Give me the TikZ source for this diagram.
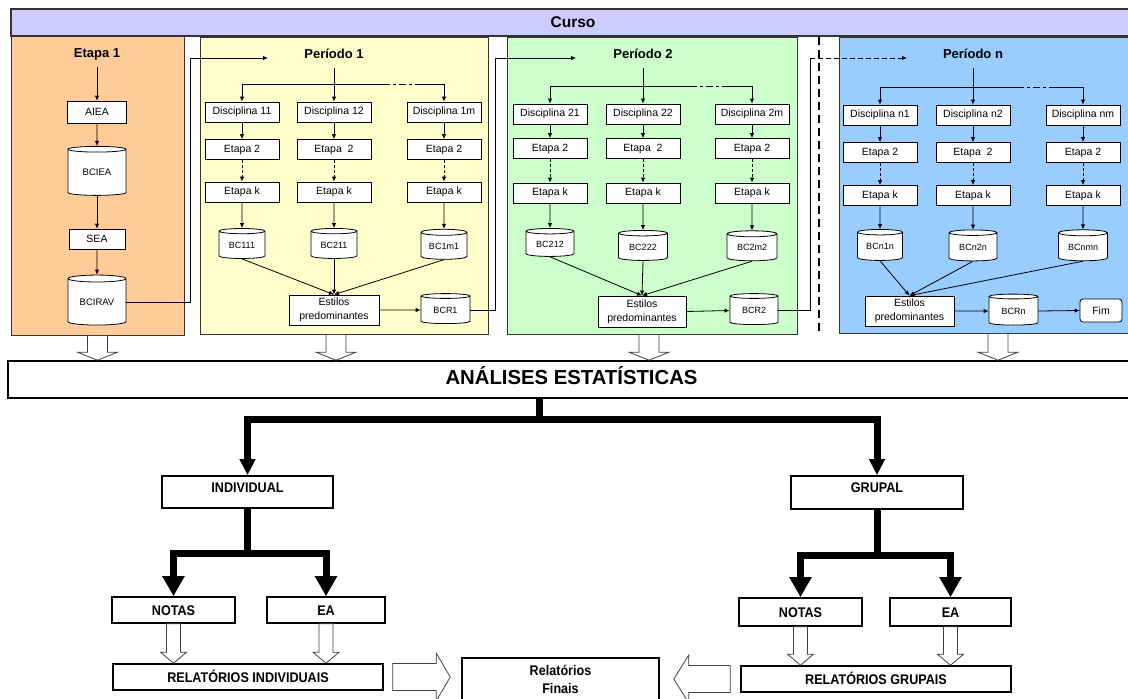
\documentclass[tikz,border=0pt]{standalone}
\usepackage{fontspec}
\setmainfont{Liberation Sans}
\newfontfamily\estreita[FakeStretch=0.9]{Liberation Sans}
\usetikzlibrary{calc,arrows.meta,shapes.geometric}

\definecolor{lilas}{RGB}{204,204,255}
\definecolor{laranja}{RGB}{255,204,153}
\definecolor{amarelo}{RGB}{255,255,204}
\definecolor{verde}{RGB}{204,255,204}
\definecolor{azul}{RGB}{153,204,255}

% seta vazada vertical: base, ponta, meia largura do corpo, meia largura da cabeca, comprimento da cabeca
\newcommand{\setavazada}[5]{%
  \draw[bloco] let \p1=#1, \p2=#2 in
    ({\x1-#3},\y1) -- ({\x1+#3},\y1) -- ({\x1+#3},{\y2+#5}) -- ({\x1+#4},{\y2+#5}) -- (\x1,\y2)
    -- ({\x1-#4},{\y2+#5}) -- ({\x1-#3},{\y2+#5}) -- cycle;}
% seta vazada horizontal (comprimento negativo: aponta para a esquerda)
\newcommand{\setavazadah}[5]{%
  \draw[bloco] let \p1=#1, \p2=#2 in
    (\x1,{\y1-#3}) -- ({\x2-(#5)},{\y1-#3}) -- ({\x2-(#5)},{\y1-#4}) -- (\x2,\y1)
    -- ({\x2-(#5)},{\y1+#4}) -- ({\x2-(#5)},{\y1+#3}) -- (\x1,{\y1+#3}) -- cycle;}

\begin{document}
\begin{tikzpicture}[x=1pt,y=-1pt,
    caixa/.style={draw, fill=white, line width=0.8pt, inner sep=0pt, align=center,
                  minimum width=74pt, minimum height=20pt, font=\fontsize{10.5}{14}\selectfont},
    banco/.style={cylinder, shape border rotate=90, aspect=0.2, draw, fill=white, line width=0.8pt,
                  inner sep=0pt, minimum width=46pt, minimum height=30pt, font=\fontsize{9}{10}\selectfont},
    bancog/.style={banco, minimum width=58pt, minimum height=49pt, font=\fontsize{9.5}{11}\selectfont},
    painel/.style={draw=black!80, line width=1pt, inner sep=0pt},
    titulo/.style={inner sep=0pt, font=\bfseries\fontsize{13}{15}\selectfont},
    linha/.style={line width=0.8pt},
    seta/.style={linha, -{Latex[length=5pt,width=4.5pt]}},
    pontilhada/.style={seta, dash pattern=on 3pt off 2pt},
    traco/.style={linha, dash pattern=on 7pt off 3pt on 3pt off 3pt},
    grande/.style={draw, fill=white, line width=1.6pt, inner sep=0pt, align=center,
                   font=\estreita\bfseries\fontsize{14}{18}\selectfont},
    caps/.style={text height=10pt, text depth=0pt},
    grossa/.style={line width=7pt, -{Triangle[width=15pt,length=16pt]}},
    grossa2/.style={line width=7pt, -{Triangle[width=21pt,length=20pt]}},
    bloco/.style={draw=black!75, fill=white, line width=0.8pt}]
  \useasboundingbox (0,0) rectangle (1128,699);

  % paineis
  \node[painel, fill=laranja, minimum width=173pt, minimum height=299pt] (p0) at (97.5,185.5) {};
  \node[painel, fill=amarelo, minimum width=288pt, minimum height=297pt] (p1) at (344,185.5) {};
  \node[painel, fill=verde, minimum width=290pt, minimum height=297pt] (p2) at (652,185.5) {};
  \node[painel, fill=azul, minimum width=296pt, minimum height=296pt] (pn) at (987,185) {};
  \node[painel, fill=lilas, line width=1.3pt, minimum width=1124pt, minimum height=27pt,
        font=\bfseries\fontsize{15.5}{18}\selectfont] (curso) at (573,22.5) {Curso};
  \draw[line width=2pt, dash pattern=on 8pt off 5pt] (819,37) -- (819,334);

  % Etapa 1
  \node[titulo] (t0) at (97,54) {Etapa 1};
  \node[caixa, minimum width=59pt, minimum height=22pt] (aiea) at (97,112) {AIEA};
  \node[bancog] (bciea) at (97,172.5) {BCIEA};
  \node[caixa, minimum width=56pt] (sea) at (97,239) {SEA};
  \node[bancog, minimum height=50pt] (bcirav) at (97,302) {BCIRAV};
  \draw[seta] ([yshift=-7pt]t0.south) -- (aiea.north);
  \draw[seta] (aiea.south) -- (bciea.north);
  \draw[seta] (bciea.south) -- (sea.north);
  \draw[seta] (sea.south) -- (bcirav.north);
  \coordinate (c1) at (190,58);
  \coordinate (e1) at (268,58);
  \draw[seta] (bcirav.east) -| (c1) -- (e1);

  % Periodo 1
  \node[titulo] (tp1) at (334,54) {Período 1};
  \node[caixa] (d11) at (242,112) {Disciplina 11};
  \node[caixa] (d12) at (334,112) {Disciplina 12};
  \node[caixa] (d1m) at (444,112) {Disciplina 1m};
  \node[caixa] (e211) at (242,149.5) {Etapa 2};
  \node[caixa] (e212) at (334,149.5) {Etapa\ \ 2};
  \node[caixa] (e21m) at (444,149.5) {Etapa 2};
  \node[caixa] (ek11) at (242,192) {Etapa k};
  \node[caixa] (ek12) at (334,192) {Etapa k};
  \node[caixa] (ek1m) at (444,192) {Etapa k};
  \node[banco] (bc111) at (242,245) {BC111};
  \node[banco] (bc211) at (334,245) {BC211};
  \node[banco] (bc1m1) at (444,246) {BC1m1};
  \node[caixa, minimum width=90pt, minimum height=30pt] (est1) at (334,310) {Estilos\\predominantes};
  \node[banco, minimum width=49pt] (bcr1) at (445.5,310) {BCR1};
  \coordinate (j1) at (334,84);
  \coordinate (j1a) at (383,84);
  \coordinate (j1b) at (417,84);
  \draw[seta] ([yshift=-9pt]tp1.south) -- (d12.north);
  \draw[seta] (j1) -| (d11.north);
  \draw[linha] (j1) -- (j1a);
  \draw[traco] (j1a) -- (j1b);
  \draw[seta] (j1b) -| (d1m.north);
  \draw[seta] (d11) -- (e211);
  \draw[seta] (d12) -- (e212);
  \draw[seta] (d1m) -- (e21m);
  \draw[pontilhada] (e211) -- (ek11);
  \draw[pontilhada] (e212) -- (ek12);
  \draw[pontilhada] (e21m) -- (ek1m);
  \draw[seta] (ek11) -- (bc111.north);
  \draw[seta] (ek12) -- (bc211.north);
  \draw[seta] (ek1m) -- (bc1m1.north);
  \draw[seta] (bc111.south) -- (est1.north);
  \draw[seta] (bc211.south) -- (est1.north);
  \draw[seta] (bc1m1.south) -- (est1.north);
  \draw[seta] (est1.east) -- (bcr1.west);
  \coordinate (c2) at (495,58);
  \coordinate (e2) at (576,58);
  \draw[seta] (bcr1.east) -| (c2) -- (e2);

  % Periodo 2
  \node[titulo] (tp2) at (643,54) {Período 2};
  \node[caixa] (d21) at (550,114) {Disciplina 21};
  \node[caixa] (d22) at (643,114) {Disciplina 22};
  \node[caixa] (d2m) at (752,114) {Disciplina 2m};
  \node[caixa] (e221) at (550,148.5) {Etapa 2};
  \node[caixa] (e222) at (643,148.5) {Etapa\ \ 2};
  \node[caixa] (e22m) at (752,148.5) {Etapa 2};
  \node[caixa] (ek21) at (550,193) {Etapa k};
  \node[caixa] (ek22) at (643,193) {Etapa k};
  \node[caixa] (ek2m) at (752,193) {Etapa k};
  \node[banco, minimum width=48pt, minimum height=28pt] (bc212) at (550,244) {BC212};
  \node[banco, minimum width=49pt] (bc222) at (643,247) {BC222};
  \node[banco, minimum width=50pt] (bc2m2) at (752,247.5) {BC2m2};
  \node[caixa, minimum width=88pt, minimum height=31pt] (est2) at (642,311.5) {Estilos\\predominantes};
  \node[banco, minimum width=48pt, minimum height=31pt] (bcr2) at (754,310.5) {BCR2};
  \coordinate (j2) at (643,86);
  \coordinate (j2a) at (690,86);
  \coordinate (j2b) at (723,86);
  \draw[seta] ([yshift=-9pt]tp2.south) -- (d22.north);
  \draw[seta] (j2) -| (d21.north);
  \draw[linha] (j2) -- (j2a);
  \draw[traco] (j2a) -- (j2b);
  \draw[seta] (j2b) -| (d2m.north);
  \draw[seta] (d21) -- (e221);
  \draw[seta] (d22) -- (e222);
  \draw[seta] (d2m) -- (e22m);
  \draw[pontilhada] (e221) -- (ek21);
  \draw[pontilhada] (e222) -- (ek22);
  \draw[pontilhada] (e22m) -- (ek2m);
  \draw[seta] (ek21) -- (bc212.north);
  \draw[seta] (ek22) -- (bc222.north);
  \draw[seta] (ek2m) -- (bc2m2.north);
  \draw[seta] (bc212.south) -- (est2.north);
  \draw[seta] (bc222.south) -- (est2.north);
  \draw[seta] (bc2m2.south) -- (est2.north);
  \draw[seta] (est2.east) -- (bcr2.west);
  \coordinate (cn) at (810,58);
  \coordinate (en) at (907,58);
  \draw[linha] (bcr2.east) -| (cn);
  \draw[seta, dash pattern=on 5pt off 3pt] (cn) -- (en);

  % Periodo n
  \node[titulo] (tpn) at (973,54) {Período n};
  \node[caixa] (dn1) at (880,115) {Disciplina n1};
  \node[caixa] (dn2) at (973,115) {Disciplina n2};
  \node[caixa] (dnm) at (1083,115) {Disciplina nm};
  \node[caixa] (e2n1) at (880,152.5) {Etapa 2};
  \node[caixa] (e2n2) at (973,152.5) {Etapa\ \ 2};
  \node[caixa] (e2nm) at (1083,152.5) {Etapa 2};
  \node[caixa] (ekn1) at (880,195.5) {Etapa k};
  \node[caixa] (ekn2) at (973,195.5) {Etapa k};
  \node[caixa] (eknm) at (1083,195.5) {Etapa k};
  \node[banco, minimum width=45pt, minimum height=31pt] (bcn1n) at (880,246.5) {BCn1n};
  \node[banco, minimum width=48pt, minimum height=31pt] (bcn2n) at (973,247) {BCn2n};
  \node[banco, minimum width=49pt, minimum height=31pt] (bcnmn) at (1083,247) {BCnmn};
  \node[caixa, minimum width=89pt, minimum height=30pt] (estn) at (909.5,311) {Estilos\\predominantes};
  \node[banco, minimum width=49pt, minimum height=31pt] (bcrn) at (1013.5,311) {BCRn};
  \node[caixa, rounded corners=3pt, minimum width=42pt, minimum height=23pt] (fim) at (1101,310.5) {Fim};
  \coordinate (jn) at (973,87);
  \coordinate (jna) at (1017,87);
  \coordinate (jnb) at (1053,87);
  \draw[seta] ([yshift=-9pt]tpn.south) -- (dn2.north);
  \draw[seta] (jn) -| (dn1.north);
  \draw[linha] (jn) -- (jna);
  \draw[traco] (jna) -- (jnb);
  \draw[seta] (jnb) -| (dnm.north);
  \draw[seta] (dn1) -- (e2n1);
  \draw[seta] (dn2) -- (e2n2);
  \draw[seta] (dnm) -- (e2nm);
  \draw[pontilhada] (e2n1) -- (ekn1);
  \draw[pontilhada] (e2n2) -- (ekn2);
  \draw[pontilhada] (e2nm) -- (eknm);
  \draw[seta] (ekn1) -- (bcn1n.north);
  \draw[seta] (ekn2) -- (bcn2n.north);
  \draw[seta] (eknm) -- (bcnmn.north);
  \draw[seta] (bcn1n.south) -- (estn.north);
  \draw[seta] (bcn2n.south) -- (estn.north);
  \draw[seta] (bcnmn.south) -- (estn.north);
  \draw[seta] (estn.east) -- (bcrn.west);
  \draw[seta] (bcrn.east) -- (fim.west);

  % analises
  \node[grande, font=\bfseries\fontsize{20.3}{24}\selectfont, text height=15pt, text depth=5pt,
        minimum width=1127pt, minimum height=37pt] (analise) at (571.5,379.5) {ANÁLISES ESTATÍSTICAS};
  \setavazada{(p0.south)}{(p0.south |- analise.north)}{10}{20}{8}
  \setavazada{(p1.south -| 336,0)}{(336,0 |- analise.north)}{10}{20}{8}
  \setavazada{(p2.south -| 649,0)}{(649,0 |- analise.north)}{10}{20}{8}
  \setavazada{(pn.south -| 998,0)}{(998,0 |- analise.north)}{10}{20}{8}

  \node[grande, minimum width=171pt, minimum height=32pt, text height=10pt, text depth=10pt] (individual) at (247.5,492) {INDIVIDUAL};
  \node[grande, minimum width=172pt, minimum height=33pt, text height=10pt, text depth=10pt] (grupal) at (877,492.5) {GRUPAL};
  \node[grande, caps, minimum width=123pt, minimum height=26pt] (notasi) at (173.5,610) {NOTAS};
  \node[grande, caps, minimum width=118pt, minimum height=26pt] (eai) at (326,610) {EA};
  \node[grande, caps, minimum width=270pt, minimum height=26pt] (relind) at (248,677) {RELATÓRIOS INDIVIDUAIS};
  \node[grande, caps, minimum width=123pt, minimum height=28pt] (notasg) at (800.5,612) {NOTAS};
  \node[grande, caps, minimum width=121pt, minimum height=28pt] (eag) at (950.5,612) {EA};
  \node[grande, caps, minimum width=270pt, minimum height=26pt] (relgrp) at (876,679) {RELATÓRIOS GRUPAIS};
  \node[grande, minimum width=197pt, minimum height=42pt] (finais) at (560.5,679) {Relatórios\\Finais};

  \coordinate (ja) at (539,419);
  \draw[grossa] (analise.south -| ja) -- (ja) -| (individual.north);
  \draw[grossa] (ja) -| (grupal.north);
  \coordinate (ji) at (247.5,553);
  \draw[grossa2] (individual.south) -- (ji) -| (notasi.north);
  \draw[grossa2] (ji) -| (eai.north);
  \coordinate (jg) at (877,555);
  \draw[grossa2] (grupal.south) -- (jg) -| (notasg.north);
  \draw[grossa2] (jg) -| (eag.north);

  \setavazada{(notasi.south)}{(notasi.south |- relind.north)}{7}{13}{11}
  \setavazada{(eai.south)}{(eai.south |- relind.north)}{7}{13}{11}
  \setavazada{(notasg.south)}{(notasg.south |- relgrp.north)}{7}{13}{11}
  \setavazada{(eag.south)}{(eag.south |- relgrp.north)}{7}{13}{11}
  \setavazadah{([xshift=9pt]relind.east)}{([xshift=-11pt]finais.west)}{13.5}{24}{14}
  \setavazadah{([xshift=-10pt]relgrp.west)}{([xshift=14pt]finais.east)}{13.5}{24}{-15}
\end{tikzpicture}
\end{document}
